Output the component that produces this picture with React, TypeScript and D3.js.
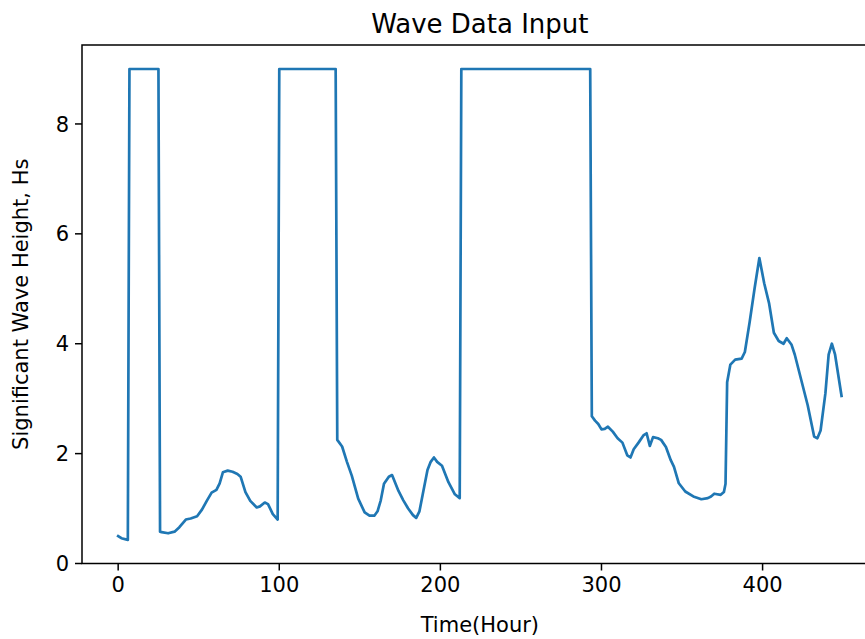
import React from "react";
import * as d3 from "d3";

const hours: number[] = [
  0, 2, 6, 7, 25, 26, 27, 31, 35, 38, 42, 45, 49, 52, 55, 58, 61, 63, 65, 68, 71, 74, 76, 79, 82, 86, 88, 91, 93, 96, 99,
  100, 135, 136, 139, 142, 145, 149, 153, 156, 159, 161, 163, 165, 168, 170, 174, 177, 180, 183, 185, 187, 189, 192, 194, 196, 198, 201, 205, 209, 212,
  213, 293, 294, 296, 298, 300, 302, 304, 307, 310, 313, 316, 318, 320, 323, 326, 328, 330, 332, 335, 337, 340, 343, 345, 348, 352, 357, 362, 366, 368, 370, 374, 376, 377,
  378, 380, 383, 387, 389, 392, 395, 398, 401, 404, 407, 410, 413, 415, 418, 420, 424, 428, 432, 434, 436, 439, 441, 443, 445, 449,
];

const waveHeight: number[] = [
  0.5, 0.46, 0.43, 9, 9, 0.58, 0.57, 0.55, 0.58, 0.66, 0.8, 0.82, 0.86, 0.98, 1.14, 1.29, 1.34, 1.46, 1.66, 1.69, 1.67, 1.63, 1.58, 1.3, 1.14, 1.02, 1.04, 1.11, 1.08, 0.9, 0.8,
  9, 9, 2.25, 2.13, 1.85, 1.6, 1.18, 0.93, 0.87, 0.87, 0.95, 1.15, 1.45, 1.58, 1.61, 1.32, 1.15, 1.0, 0.88, 0.83, 0.95, 1.25, 1.7, 1.85, 1.93, 1.85, 1.78, 1.48, 1.26, 1.19,
  9, 9, 2.68, 2.6, 2.54, 2.44, 2.45, 2.49, 2.4, 2.28, 2.2, 1.97, 1.93, 2.08, 2.2, 2.33, 2.37, 2.14, 2.3, 2.28, 2.25, 2.12, 1.88, 1.76, 1.46, 1.31, 1.22, 1.17, 1.19, 1.22, 1.27, 1.25, 1.3, 1.45,
  3.3, 3.62, 3.71, 3.73, 3.85, 4.4, 5.0, 5.56, 5.1, 4.74, 4.2, 4.05, 4.0, 4.1, 3.98, 3.8, 3.34, 2.88, 2.31, 2.28, 2.42, 3.1, 3.8, 4.0, 3.8, 3.05,
];

const xTicks: number[] = [0, 100, 200, 300, 400];
const yTicks: number[] = [0, 2, 4, 6, 8];

const title = "Wave Data Input";
const xLabel = "Time(Hour)";
const yLabel = "Significant Wave Height, Hs";

export default function App() {
  const W = 865;
  const H = 639;
  const left = 82;
  const top = 45;
  const bottom = 563.5;
  const right = 82 + 795.7;
  const font = "'DejaVu Sans', sans-serif";

  const x = d3.scaleLinear().domain([-22.45, 471.45]).range([left, right]);
  const y = d3.scaleLinear().domain([0, 9.437]).range([bottom, top]);

  const pts: [number, number][] = hours.map((h, i) => [h, waveHeight[i]]);
  const line = d3
    .line<[number, number]>()
    .x((d) => x(d[0]))
    .y((d) => y(d[1]));

  const tickLen = 7;
  const pad = 6;
  const tickFont = 21;
  const labelFont = 21;

  return (
    <svg
      width={W}
      height={H}
      style={{ position: "absolute", left: 0, top: 0, background: "#fff" }}
      fontFamily={font}
    >
      <rect x={0} y={0} width={W} height={H} fill="#fff" />
      <defs>
        <clipPath id="plot">
          <rect x={left} y={top} width={right - left} height={bottom - top} />
        </clipPath>
      </defs>
      <path
        d={line(pts) || ""}
        fill="none"
        stroke="#1f77b4"
        strokeWidth={2.7}
        strokeLinejoin="round"
        strokeLinecap="square"
        clipPath="url(#plot)"
      />
      <rect
        x={left}
        y={top}
        width={right - left}
        height={bottom - top}
        fill="none"
        stroke="#000"
        strokeWidth={1.5}
      />
      {xTicks.map((t) => (
        <g key={"x" + t}>
          <line x1={x(t)} x2={x(t)} y1={bottom} y2={bottom + tickLen} stroke="#000" strokeWidth={1.5} />
          <text
            x={x(t)}
            y={bottom + tickLen + pad}
            dy="0.76em"
            textAnchor="middle"
            fontSize={tickFont}
            fill="#000"
          >
            {t}
          </text>
        </g>
      ))}
      {yTicks.map((t) => (
        <g key={"y" + t}>
          <line x1={left - tickLen} x2={left} y1={y(t)} y2={y(t)} stroke="#000" strokeWidth={1.5} />
          <text
            x={left - tickLen - pad}
            y={y(t)}
            dy="0.36em"
            textAnchor="end"
            fontSize={tickFont}
            fill="#000"
          >
            {t}
          </text>
        </g>
      ))}
      <text x={(left + right) / 2} y={33} textAnchor="middle" fontSize={26} fill="#000">
        {title}
      </text>
      <text x={(left + right) / 2} y={632} textAnchor="middle" fontSize={labelFont} fill="#000">
        {xLabel}
      </text>
      <text
        transform={`translate(28, ${(top + bottom) / 2}) rotate(-90)`}
        textAnchor="middle"
        fontSize={labelFont}
        fill="#000"
      >
        {yLabel}
      </text>
    </svg>
  );
}
